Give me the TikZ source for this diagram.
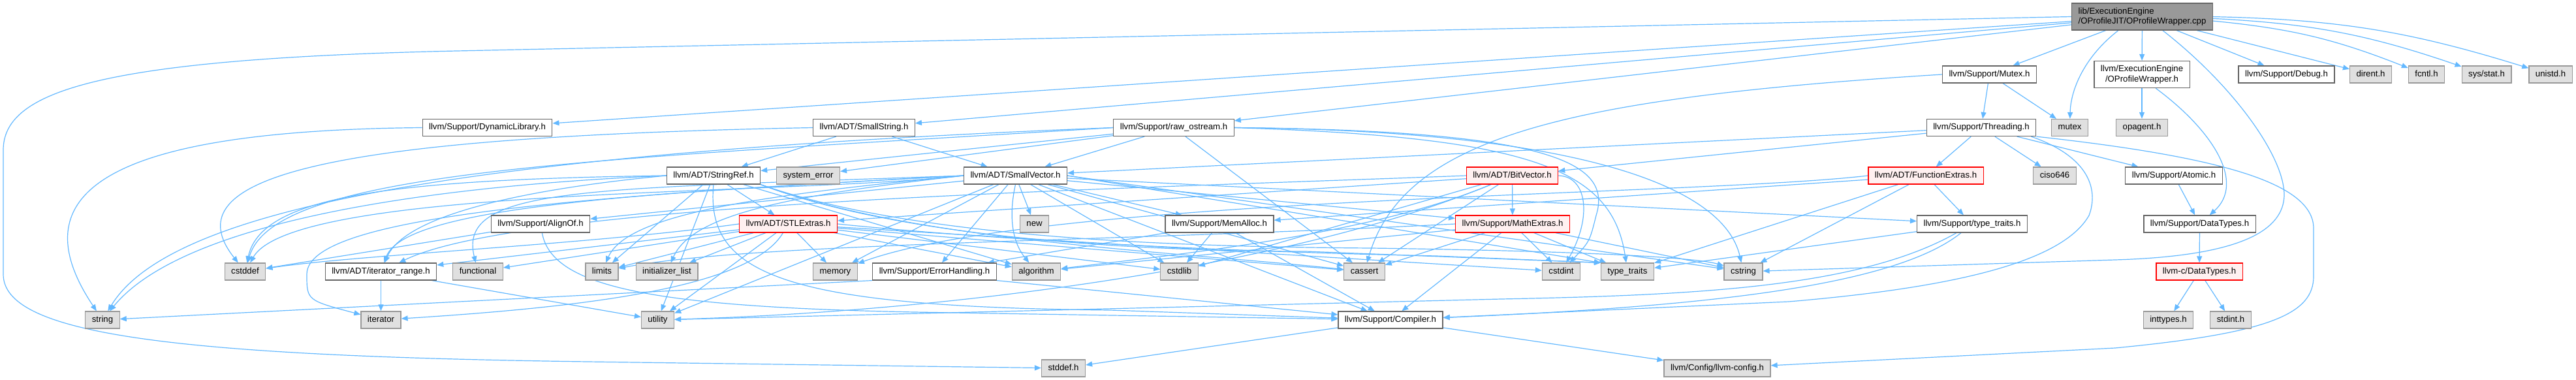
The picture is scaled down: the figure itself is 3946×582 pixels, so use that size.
\documentclass[tikz,border=0pt]{standalone}
\usepackage{fontspec}
\setmainfont{Liberation Sans}
\usetikzlibrary{arrows.meta,backgrounds}
\definecolor{EdgeBlue}{HTML}{63B8FF}
\definecolor{BoxLine}{HTML}{666666}
\definecolor{ExtFill}{HTML}{E0E0E0}
\definecolor{ExtLine}{HTML}{999999}
\definecolor{HotLine}{HTML}{FF0000}
\definecolor{HotFill}{HTML}{FFF0F0}
\definecolor{RootFill}{HTML}{999999}
\tikzset{
  file/.style={draw=BoxLine,fill=white,line width=0.6pt,font=\fontsize{6.6pt}{7.6pt}\selectfont,
    inner xsep=5pt,inner ysep=0pt,minimum height=13pt,text height=4.9pt,text depth=1.5pt},
  ext/.style={file,draw=ExtLine,fill=ExtFill},
  hot/.style={file,draw=HotLine,fill=HotFill},
  twoline/.style={text height={},text depth={},minimum height=20.5pt},
  rootfile/.style={file,twoline,fill=RootFill,align=left},
  dep/.style={draw=EdgeBlue,line width=0.6pt,-{Triangle[length=5pt,width=4pt]}}
}

\begin{document}
\begin{tikzpicture}[x=0.5pt,y=-0.5pt]
\useasboundingbox (0,0) rectangle (3946,582);

% the file itself
\node[rootfile] (root) at (3281.5,25.5) {lib/ExecutionEngine\\/OProfileJIT/OProfileWrapper.cpp};

% direct includes
\node[file] (mutexh) at (3047.5,114) {llvm/Support/Mutex.h};
\node[file,twoline,align=center] (wrapperh) at (3281,114) {llvm/ExecutionEngine\\/OProfileWrapper.h};
\node[file] (debugh) at (3502.5,114) {llvm/Support/Debug.h};
\node[ext] (dirent) at (3631.5,114) {dirent.h};
\node[ext] (fcntl) at (3717,114) {fcntl.h};
\node[ext] (sysstat) at (3809,114) {sys/stat.h};
\node[ext] (unistd) at (3907,114) {unistd.h};

\node[file] (dynlib) at (746.5,195.5) {llvm/Support/DynamicLibrary.h};
\node[file] (smallstr) at (1323.5,195.5) {llvm/ADT/SmallString.h};
\node[file] (rawos) at (1798,195.5) {llvm/Support/raw\_ostream.h};
\node[file] (threading) at (3035,195.5) {llvm/Support/Threading.h};
\node[ext] (mutexstd) at (3170.5,195.5) {mutex};
\node[ext] (opagent) at (3281,195.5) {opagent.h};

\node[file] (strref) at (1093,269) {llvm/ADT/StringRef.h};
\node[ext] (syserr) at (1238,269) {system\_error};
\node[file] (smallvec) at (1555.5,269) {llvm/ADT/SmallVector.h};
\node[hot] (bitvec) at (2316.5,269) {llvm/ADT/BitVector.h};
\node[hot] (funcext) at (2950,269) {llvm/ADT/FunctionExtras.h};
\node[ext] (ciso) at (3147.5,269) {ciso646};
\node[file] (atomic) at (3330,269) {llvm/Support/Atomic.h};

\node[file] (alignof) at (828,343) {llvm/Support/AlignOf.h};
\node[hot] (stlext) at (1207.5,343) {llvm/ADT/STLExtras.h};
\node[ext] (newh) at (1584.5,343) {new};
\node[file] (memalloc) at (1868,343) {llvm/Support/MemAlloc.h};
\node[hot] (mathext) at (2317,343) {llvm/Support/MathExtras.h};
\node[file] (typetraitsh) at (3021,343) {llvm/Support/type\_traits.h};
\node[file] (datatypesh) at (3369.5,343) {llvm/Support/DataTypes.h};

\node[ext] (cstddef) at (375.5,416) {cstddef};
\node[file] (itrange) at (583.5,416) {llvm/ADT/iterator\_range.h};
\node[ext] (functional) at (732,416) {functional};
\node[ext] (limits) at (922,416) {limits};
\node[ext] (initlist) at (1021.5,416) {initializer\_list};
\node[ext] (memory) at (1279.5,416) {memory};
\node[file] (errhand) at (1431.5,416) {llvm/Support/ErrorHandling.h};
\node[ext] (algorithm) at (1587.5,416) {algorithm};
\node[ext] (cstdlib) at (1806.5,416) {cstdlib};
\node[ext] (cassert) at (2090,416) {cassert};
\node[ext] (cstdint) at (2391.5,416) {cstdint};
\node[ext] (typetraits) at (2493,416) {type\_traits};
\node[ext] (cstring) at (2670.5,416) {cstring};
\node[hot] (cdatatypes) at (3369,416) {llvm-c/DataTypes.h};

\node[ext] (string) at (157,490) {string};
\node[ext] (iterator) at (583.5,490) {iterator};
\node[ext] (utility) at (1007.5,490) {utility};
\node[file] (compiler) at (2130,490) {llvm/Support/Compiler.h};
\node[ext] (inttypes) at (3321.5,490) {inttypes.h};
\node[ext] (stdint) at (3417,490) {stdint.h};

\node[ext] (stddef) at (1629,564) {stddef.h};
\node[ext] (llvmconfig) at (2630.5,564) {llvm/Config/llvm-config.h};

\begin{scope}[on background layer]
% straight includes
\foreach \src/\dst in {root/wrapperh,root/mutexh,root/debugh,root/dirent,root/dynlib,root/smallstr,root/rawos,
  wrapperh/opagent,mutexh/threading,mutexh/mutexstd,
  threading/funcext,threading/ciso,threading/atomic,threading/bitvec,threading/smallvec,
  atomic/datatypesh,datatypesh/cdatatypes,cdatatypes/inttypes,cdatatypes/stdint,
  compiler/llvmconfig,compiler/stddef,smallstr/smallvec,smallstr/strref,
  rawos/smallvec,rawos/strref,rawos/syserr,rawos/cassert,
  strref/stlext,strref/limits,strref/algorithm,strref/utility,
  smallvec/alignof,smallvec/compiler,smallvec/errhand,smallvec/mathext,smallvec/memalloc,
  smallvec/typetraitsh,smallvec/cassert,smallvec/cstdlib,smallvec/memory,smallvec/newh,smallvec/utility,
  bitvec/stlext,bitvec/mathext,bitvec/cassert,bitvec/cstdlib,
  funcext/memalloc,funcext/typetraitsh,funcext/cstring,funcext/typetraits,alignof/cstddef,
  stlext/limits,stlext/initlist,stlext/memory,stlext/utility,stlext/functional,stlext/algorithm,
  stlext/cassert,stlext/cstdlib,stlext/cstdint,stlext/itrange,
  memalloc/cstdlib,memalloc/compiler,memalloc/errhand,
  mathext/cassert,mathext/compiler,mathext/cstdint,mathext/typetraits,mathext/cstring,mathext/algorithm,
  typetraitsh/typetraits,itrange/iterator,itrange/utility}
  \draw[dep] (\src) -- (\dst);

% bent includes
\draw[dep] (root) to[bend left=8] (fcntl);
\draw[dep] (root) to[bend left=8] (sysstat);
\draw[dep] (root) to[bend left=8] (unistd);
\draw[dep] (root.210) .. controls (3195,85) and (3172,135) .. (mutexstd);
\draw[dep] (root.west) -- (700,78) .. controls (150,90) and (5,140) .. (5,230) -- (5,420)
  .. controls (5,510) and (250,545) .. (900,554) -- (stddef);
\draw[dep] (root.-34) .. controls (3420,130) and (3500,240) .. (3499,300)
  .. controls (3497,350) and (3440,392) .. (3240,398) -- (cstring);
\draw[dep] (wrapperh.-45) .. controls (3390,200) and (3440,280) .. (datatypesh);
\draw[dep] (mutexh.west) .. controls (2400,150) and (2150,210) .. (cassert);
\draw[dep] (threading.south east) .. controls (3400,240) and (3544,280) .. (3544,350) -- (3544,423)
  .. controls (3544,480) and (3480,510) .. (3240,533) -- (llvmconfig);
\draw[dep] ([xshift=-4pt]threading.south east) .. controls (3200,240) and (3215,290) .. (3200,330)
  .. controls (3160,400) and (3000,440) .. (2740,462) -- (compiler);
\draw[dep] (dynlib.west) .. controls (150,200) and (30,300) .. (string);
\draw[dep] (smallstr.west) .. controls (500,210) and (260,270) .. (cstddef);
\draw[dep] (rawos.west) .. controls (900,245) and (420,260) .. (cstddef);
\draw[dep] (rawos.west) .. controls (700,235) and (260,320) .. (string);
\draw[dep] (rawos.east) .. controls (2380,200) and (2470,250) .. (2445,330) .. controls (2435,370) .. (cstdint);
\draw[dep] (rawos.east) .. controls (2350,210) and (2470,260) .. (typetraits);
\draw[dep] (rawos.east) .. controls (2400,200) and (2640,280) .. (cstring);
\draw[dep] (strref.west) .. controls (600,275) and (400,300) .. (cstddef);
\draw[dep] (strref.west) .. controls (650,285) and (280,340) .. (string);
\draw[dep] (strref.west) .. controls (800,290) and (620,330) .. (itrange);
\draw[dep] (strref.south east) .. controls (1400,370) and (1800,385) .. (cassert);
\draw[dep] (strref.south east) .. controls (1400,372) and (1800,385) .. (2000,385) -- (typetraits.north west);
\draw[dep] (strref.south east) .. controls (1400,365) and (1800,378) .. (2100,380)
  .. controls (2450,385) and (2600,395) .. (cstring);
\draw[dep] (strref.south) .. controls (1080,420) and (1200,470) .. (1700,475) -- (compiler);
\draw[dep] (smallvec.west) .. controls (1200,300) and (450,285) .. (cstddef);
\draw[dep] (smallvec.west) .. controls (900,300) and (470,330) .. (470,420) .. controls (470,460) .. (iterator);
\draw[dep] (smallvec.west) .. controls (1000,295) and (620,315) .. (itrange);
\draw[dep] (smallvec.west) .. controls (900,290) and (700,285) .. (functional);
\draw[dep] (smallvec.west) .. controls (1150,300) and (960,330) .. (limits);
\draw[dep] (smallvec.west) .. controls (1200,300) and (1060,330) .. (initlist);
\draw[dep] (smallvec.south) .. controls (1545,330) and (1550,370) .. (algorithm);
\draw[dep] (smallvec.east) -- (typetraits.north west);
\draw[dep] (smallvec.east) -- (cstring);
\draw[dep] (bitvec.west) .. controls (1700,290) and (800,310) .. (itrange);
\draw[dep] (bitvec) .. controls (2000,400) and (1500,475) .. (utility);
\draw[dep] (bitvec) .. controls (2100,360) and (1800,390) .. (algorithm);
\draw[dep] (bitvec.east) .. controls (2430,270) and (2440,330) .. (cstdint);
\draw[dep] (funcext.west) .. controls (2600,300) and (1600,300) .. (memory);
\draw[dep] (alignof) .. controls (845,440) and (1000,470) .. (1400,478) -- (compiler);
\draw[dep] (stlext.west) .. controls (900,375) and (550,390) .. (cstddef);
\draw[dep] (stlext) .. controls (1150,440) and (900,470) .. (iterator);
\draw[dep] (stlext.east) .. controls (1600,375) and (2000,388) .. (2200,392) -- (typetraits.north west);
\draw[dep] (mathext.west) .. controls (1700,370) and (1150,372) .. (limits);
\draw[dep] (errhand.south west) -- (string);
\draw[dep] (errhand.south east) -- (compiler);
\draw[dep] (typetraitsh) .. controls (2900,440) and (2600,470) .. (compiler);
\draw[dep] (typetraitsh) .. controls (2850,440) and (2600,452) .. (2300,458) -- (utility);
\end{scope}
\end{tikzpicture}
\end{document}
